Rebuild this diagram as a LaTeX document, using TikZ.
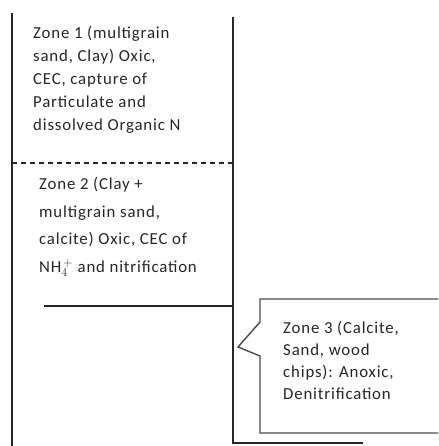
\documentclass[tikz,border=0pt]{standalone}
\usepackage{fontspec}
\setmainfont{Carlito}[LetterSpace=5]
\begin{document}
\begin{tikzpicture}[x=1pt,y=1pt,
  wall/.style={draw=black!85, line width=1.6pt},
  boxline/.style={draw=black!70, line width=1.4pt},
  zonetext/.style={anchor=base west, align=left, inner sep=0pt, text=black!85, font=\fontsize{16.8}{23}\selectfont}]
\fill[white] (0,0) rectangle (438,446);
\useasboundingbox (0,0) rectangle (438,446);
% walls (y measured from the bottom)
\coordinate (lt) at (12,433);
\coordinate (lb) at (12,0);
\coordinate (rt) at (233,429);
\coordinate (rb) at (233,3);
\coordinate (be) at (363,3);
\draw[wall] (lt) -- (lb);
\draw[wall] (rt) -- (rb) -- (be);
\draw[wall, dash pattern=on 5pt off 4pt] (12,283) -- (233,283);
\draw[wall] (44,140) -- (233,140);
% callout
\coordinate (ctr) at (438,147);
\coordinate (ctl) at (260,147);
\coordinate (cn1) at (260,124);
\coordinate (tip) at (238,99);
\coordinate (cn2) at (260,90);
\coordinate (cbl) at (260,13);
\coordinate (cbr) at (438,13);
\draw[boxline] (ctr) -- (ctl) -- (cn1) -- (tip) -- (cn2) -- (cbl) -- (cbr);
% texts (anchor is the baseline of the last line)
\node[zonetext] (z1) at (33,315) {Zone 1 (multigrain\\sand, Clay) Oxic,\\CEC, capture of\\Particulate and\\dissolved Organic N};
\node[zonetext, font=\fontsize{16.8}{27.5}\selectfont] (z2) at (39,173.5) {Zone 2 (Clay +\\multigrain sand,\\calcite) Oxic, CEC of\\NH$_4^{\,+}$ and nitrification};
\node[zonetext, font=\fontsize{16.8}{22}\selectfont] (z3) at (283,46) {Zone 3 (Calcite,\\Sand, wood\\chips): Anoxic,\\Denitrification};
\end{tikzpicture}
\end{document}
